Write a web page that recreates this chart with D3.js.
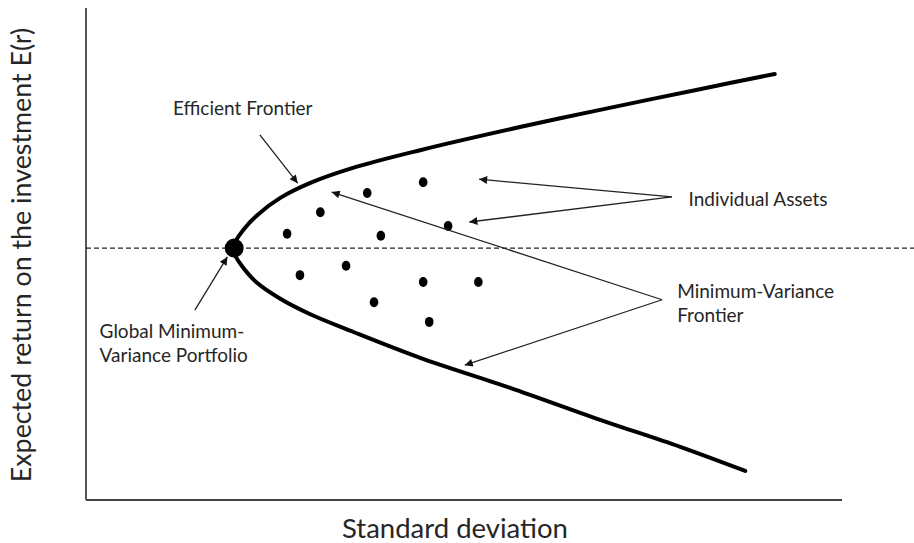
<!DOCTYPE html>
<html>
<head>
<meta charset="utf-8">
<script src="https://cdn.jsdelivr.net/npm/d3@7/dist/d3.min.js"></script>
<style>
  html, body { margin: 0; padding: 0; background: #fff; }
  svg { display: block; }
  text { font-family: Lato, "Open Sans", sans-serif; fill: #262626; }
</style>
</head>
<body>
<svg id="chart" width="914" height="543"></svg>
<script>
// ---- Data (standard deviation, expected return), abstract units 0..100 ----
const frontierSd  = [91.1, 81.2, 68.0, 57.4, 44.2, 35.3, 29.6, 25.7, 22.8, 20.8, 19.7, 19.4,
                     19.7, 20.6, 22.5, 25.7, 29.6, 35.3, 44.2, 56.1, 68.0, 78.6, 87.2];
const frontierRet = [86.6, 83.5, 79.3, 75.8, 71.1, 67.5, 64.4, 61.4, 58.1, 54.9, 52.4, 51.2,
                     49.8, 47.6, 44.3, 40.9, 37.8, 34.2, 28.9, 22.8, 16.3, 10.8, 5.9];

const assetSd  = [37.2, 44.6, 31.0, 47.9, 26.6, 39.0, 28.3, 34.4, 44.6, 51.9, 38.1, 45.4];
const assetRet = [62.4, 64.6, 58.5, 55.7, 54.1, 53.7, 45.7, 47.6, 44.3, 44.3, 40.2, 36.2];

const gmvpSd = 19.6, gmvpRet = 51.2;

// annotation labels and arrows (in data units)
const labelTexts = [["Efficient Frontier"], ["Global Minimum-", "Variance Portfolio"], ["Individual Assets"], ["Minimum-Variance", "Frontier"]];
const labelSd    = [11.5, 1.8, 79.7, 78.2];
const labelRet   = [78.2, 33.0, 59.8, 41.0];
const arrowFrom  = [[23.0, 74.2], [14.4, 38.6], [77.5, 61.6], [77.5, 61.6], [76.2, 40.7], [76.2, 40.7]];
const arrowTo    = [[28.0, 64.4], [18.7, 49.4], [52.0, 65.2], [50.7, 56.5], [32.5, 62.6], [50.1, 27.4]];

const xTitle = "Standard deviation";
const yTitle = "Expected return on the investment E(r)";

// ---- Scales ----
const svg = d3.select("#chart");
const x = d3.scaleLinear().domain([0, 100]).range([86, 842]);
const y = d3.scaleLinear().domain([0, 100]).range([500, 8]);

// arrow marker
svg.append("defs").append("marker")
  .attr("id", "head").attr("viewBox", "0 0 10 10")
  .attr("refX", 10).attr("refY", 5)
  .attr("markerWidth", 11).attr("markerHeight", 8)
  .attr("markerUnits", "userSpaceOnUse")
  .attr("orient", "auto")
  .append("path").attr("d", "M0,0 L10,5 L0,10 Z").attr("fill", "#111");

// axes (plain lines, no ticks)
svg.append("line").attr("x1", x(0)).attr("x2", x(0)).attr("y1", y(100)).attr("y2", y(0))
  .attr("stroke", "#444").attr("stroke-width", 1.8);
svg.append("line").attr("x1", x(0)).attr("x2", x(100)).attr("y1", y(0)).attr("y2", y(0))
  .attr("stroke", "#444").attr("stroke-width", 1.8);

// dashed horizontal line through GMVP
svg.append("line").attr("x1", x(0)).attr("x2", 914).attr("y1", y(gmvpRet)).attr("y2", y(gmvpRet))
  .attr("stroke", "#222").attr("stroke-width", 1.2).attr("stroke-dasharray", "5,3");

// frontier
const frontier = frontierSd.map((s, i) => [s, frontierRet[i]]);
svg.append("path").datum(frontier)
  .attr("d", d3.line().x(d => x(d[0])).y(d => y(d[1])).curve(d3.curveCatmullRom.alpha(0.5)))
  .attr("fill", "none").attr("stroke", "#000").attr("stroke-width", 4).attr("stroke-linecap", "round");

// individual assets
svg.selectAll("ellipse.asset").data(assetSd.map((s, i) => [s, assetRet[i]]))
  .enter().append("ellipse").attr("class", "asset")
  .attr("cx", d => x(d[0])).attr("cy", d => y(d[1]))
  .attr("rx", 4.3).attr("ry", 5).attr("fill", "#000");

// GMVP
svg.append("circle").attr("cx", x(gmvpSd)).attr("cy", y(gmvpRet)).attr("r", 9.5).attr("fill", "#000");

// arrows
svg.selectAll("line.arrow").data(arrowFrom.map((f, i) => [f, arrowTo[i]]))
  .enter().append("line").attr("class", "arrow")
  .attr("x1", d => x(d[0][0])).attr("y1", d => y(d[0][1]))
  .attr("x2", d => x(d[1][0])).attr("y2", d => y(d[1][1]))
  .attr("stroke", "#222").attr("stroke-width", 1.3).attr("marker-end", "url(#head)");

// labels
labelTexts.forEach((lines, i) => {
  const t = svg.append("text").attr("x", x(labelSd[i])).attr("y", y(labelRet[i]))
    .attr("font-size", 19);
  lines.forEach((ln, j) => {
    t.append("tspan").attr("x", x(labelSd[i])).attr("dy", j === 0 ? 0 : 24).text(ln);
  });
});

// axis titles
svg.append("text").attr("x", 455).attr("y", 538).attr("text-anchor", "middle")
  .attr("font-size", 27.5).text(xTitle);
svg.append("text").attr("transform", "translate(31,255) rotate(-90)").attr("text-anchor", "middle")
  .attr("font-size", 26.8).text(yTitle);
</script>
</body>
</html>
